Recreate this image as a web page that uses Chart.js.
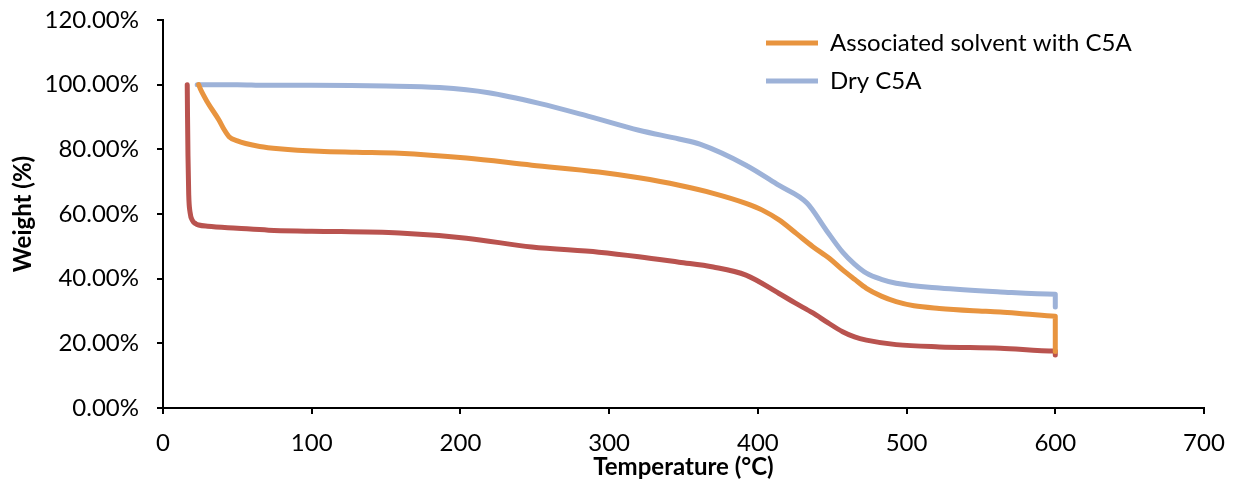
<!DOCTYPE html>
<html>
<head>
<meta charset="utf-8">
<script src="https://cdn.jsdelivr.net/npm/chart.js@4/dist/chart.umd.min.js"></script>
<style>
  html, body { margin: 0; padding: 0; background: #fff; }
  #wrap { width: 1236px; height: 482px; position: relative; }
</style>
</head>
<body>
<div id="wrap"><canvas id="c" width="1236" height="482"></canvas></div>
<script>
// ---- data (Temperature °C, Weight %) ----
const seriesNames = ["Associated solvent with C5A", "Dry C5A", "Sample C5A"];

const assocTemp   = [24, 25, 30, 37.7, 41, 44.4, 50, 55.6, 65, 78, 105, 130, 159, 204, 248, 293, 320, 347, 370, 392, 403, 414.5, 425.8, 437, 448, 457, 465, 473, 483, 493, 505, 522, 545, 563, 580, 600, 600];
const assocWeight = [100, 98.8, 94.5, 89, 86.2, 83.9, 82.6, 81.8, 80.9, 80.2, 79.4, 79.1, 78.8, 77.3, 75.1, 73, 71.2, 68.9, 66.4, 63.3, 61.2, 58.1, 54, 49.9, 46.3, 42.7, 39.8, 37.0, 34.6, 32.9, 31.6, 30.8, 30.1, 29.7, 29.1, 28.4, 17.5];

const dryTemp   = [23, 50, 69, 100, 150, 186, 219, 253, 287, 320, 347, 361, 392, 414, 433, 446, 457, 465, 473, 483, 493, 522, 563, 600, 600];
const dryWeight = [100, 100, 99.8, 99.8, 99.6, 99.1, 97.5, 94.2, 90.1, 85.9, 83.2, 81.6, 75.1, 68.9, 63.4, 55, 48.2, 44.5, 41.7, 39.8, 38.6, 37.1, 35.9, 35.2, 31.2];

const redTemp   = [16.3, 16.5, 16.8, 17.3, 18.2, 19.8, 22, 24, 30, 50, 71, 100, 159, 204, 248, 293, 320, 347, 370, 392, 414, 425, 437, 447, 457, 465, 473, 493, 522, 563, 600, 600];
const redWeight = [100, 90, 78, 66, 60.5, 58, 57, 56.6, 56.2, 55.6, 55, 54.7, 54.1, 52.5, 49.8, 48.2, 46.8, 45.1, 43.6, 41.1, 35.5, 32.5, 29.4, 26.4, 23.6, 22, 21, 19.6, 18.9, 18.5, 17.6, 16.4];

const xTicks = [0, 100, 200, 300, 400, 500, 600, 700];
const yTicks = [0, 20, 40, 60, 80, 100, 120];

function toPoints(xs, ys) { return xs.map((x, i) => ({ x: x, y: ys[i] })); }

const FONT = "Lato, 'Open Sans', 'Liberation Sans', sans-serif";

// move the built-in legend (placed in chart area) to the upper right
const legendMover = {
  id: 'legendMover',
  afterLayout(chart) {
    const lg = chart.legend;
    if (!lg) return;
    const w = lg.width, h = lg.height;
    lg.left = 752;
    lg.right = lg.left + w;
    lg.top = 17;
    lg.bottom = lg.top + h;
  }
};

new Chart(document.getElementById('c'), {
  type: 'line',
  data: {
    datasets: [
      { label: seriesNames[0], data: toPoints(assocTemp, assocWeight), borderColor: '#E8943F', backgroundColor: '#E8943F', borderWidth: 5 },
      { label: seriesNames[1], data: toPoints(dryTemp, dryWeight), borderColor: '#9DB2D8', backgroundColor: '#9DB2D8', borderWidth: 5 },
      { label: seriesNames[2], data: toPoints(redTemp, redWeight), borderColor: '#B9534F', backgroundColor: '#B9534F', borderWidth: 5 }
    ]
  },
  options: {
    responsive: false,
    animation: false,
    parsing: false,
    layout: { padding: 0 },
    elements: {
      line: { tension: 0.35, cubicInterpolationMode: 'monotone', borderCapStyle: 'round', borderJoinStyle: 'round', fill: false },
      point: { radius: 0, hoverRadius: 0 }
    },
    plugins: {
      tooltip: { enabled: false },
      legend: {
        position: 'chartArea',
        align: 'start',
        labels: {
          filter: (item) => item.datasetIndex < 2,
          usePointStyle: true,
          pointStyle: 'line',
          pointStyleWidth: 52,
          color: '#000',
          font: { family: FONT, size: 24 },
          padding: 14
        }
      }
    },
    scales: {
      x: {
        type: 'linear',
        min: 0, max: 700,
        afterBuildTicks: (s) => { s.ticks = xTicks.map(v => ({ value: v })); },
        afterFit: (s) => { s.height = 74; s.paddingLeft = 0; s.paddingRight = 32; },
        border: { display: true, color: '#000', width: 2 },
        grid: { display: true, drawOnChartArea: false, drawTicks: true, tickLength: 6, color: '#000', lineWidth: 2 },
        ticks: { color: '#000', font: { family: FONT, size: 24 }, padding: 15, maxRotation: 0 },
        title: { display: true, text: 'Temperature (°C)', color: '#000', font: { family: FONT, size: 24, weight: 'bold' }, padding: { top: 0, bottom: 0 } }
      },
      y: {
        type: 'linear',
        min: 0, max: 120,
        afterBuildTicks: (s) => { s.ticks = yTicks.map(v => ({ value: v })); },
        afterFit: (s) => { s.width = 163; s.paddingTop = 20; s.paddingBottom = 0; },
        border: { display: true, color: '#000', width: 2 },
        grid: { display: true, drawOnChartArea: false, drawTicks: true, tickLength: 6, color: '#000', lineWidth: 2 },
        ticks: { color: '#000', font: { family: FONT, size: 24 }, padding: 18, callback: (v) => Number(v).toFixed(2) + '%' },
        title: { display: true, text: 'Weight (%)', color: '#000', font: { family: FONT, size: 24, weight: 'bold' }, padding: { top: 9, bottom: 9 } }
      }
    }
  },
  plugins: [legendMover]
});
</script>
</body>
</html>
